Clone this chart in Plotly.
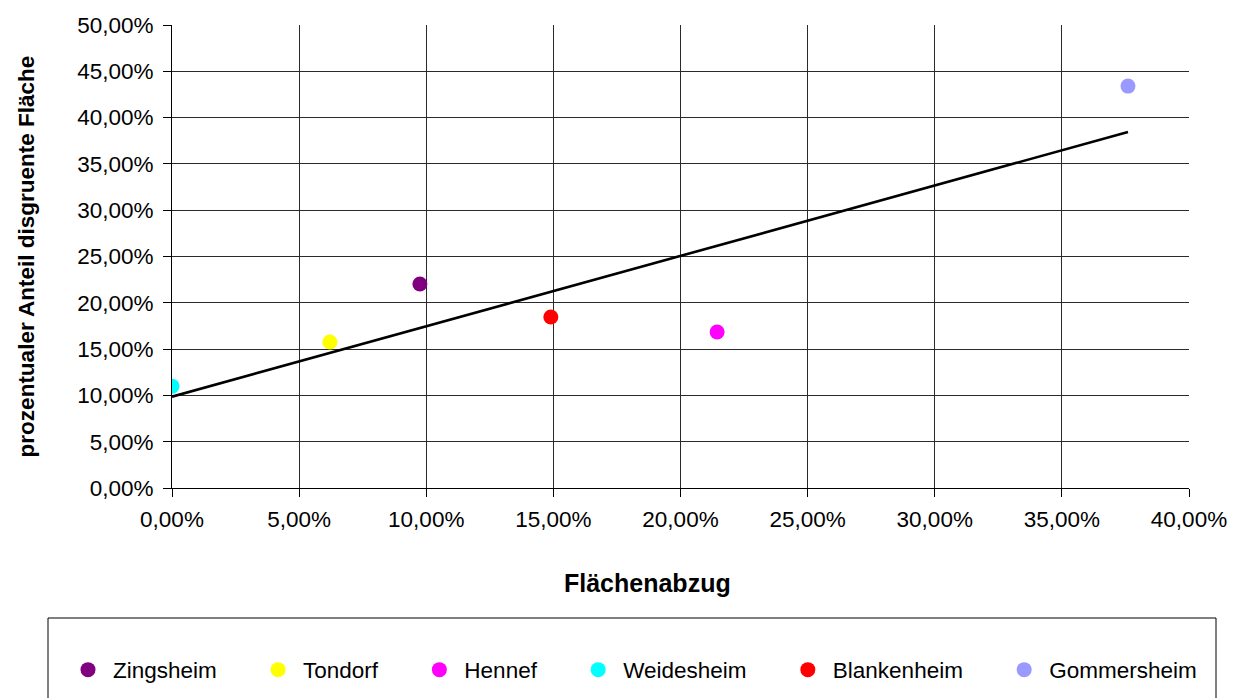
import numpy as np
import plotly.graph_objects as go

# Locations and their values (fractions, shown as percent)
orte = ["Zingsheim", "Tondorf", "Hennef", "Weidesheim", "Blankenheim", "Gommersheim"]
flaechenabzug = [0.0975, 0.0621, 0.2144, 0.0000, 0.1490, 0.3760]
anteil_disgruent = [0.2203, 0.1577, 0.1685, 0.1100, 0.1847, 0.4340]
farben = ["#800080", "#FFFF00", "#FF00FF", "#00FFFF", "#FF0000", "#9999FF"]

x_ticks = [0.0, 0.05, 0.10, 0.15, 0.20, 0.25, 0.30, 0.35, 0.40]
y_ticks = [0.0, 0.05, 0.10, 0.15, 0.20, 0.25, 0.30, 0.35, 0.40, 0.45, 0.50]

FONT = "Arial, 'Liberation Sans', sans-serif"
FS = 22.5
GRID = "#2a2a2a"
PAD = "\u00a0" * 5  # extra room after each legend label

fig = go.Figure()

for i, (name, xv, yv, col) in enumerate(zip(orte, flaechenabzug, anteil_disgruent, farben)):
    label = name if i == len(orte) - 1 else name + PAD
    fig.add_trace(go.Scatter(
        x=[xv], y=[yv], mode="markers", name=label,
        marker=dict(color=col, size=15, line=dict(width=0)),
    ))

# Linear trend line over all points
xs = np.array(flaechenabzug)
ys = np.array(anteil_disgruent)
m, b = np.polyfit(xs, ys, 1)
x_line = np.array([xs.min(), xs.max()])
fig.add_trace(go.Scatter(
    x=x_line, y=m * x_line + b, mode="lines", showlegend=False,
    line=dict(color="black", width=2.6), hoverinfo="skip",
))

# Frame around the legend
fig.add_shape(
    type="rect", xref="paper", yref="paper",
    x0=(48 - 172) / 1017, x1=(1216 - 172) / 1017,
    y0=(488 - 618) / 463, y1=(488 - 720) / 463,
    line=dict(color="black", width=1), fillcolor="white", layer="below",
)

fig.add_annotation(
    text="<b>Flächenabzug</b>", xref="paper", yref="paper",
    x=(647 - 172) / 1017, y=(488 - 583) / 463, showarrow=False,
    font=dict(family=FONT, size=25, color="black"),
    xanchor="center", yanchor="middle",
)

fig.update_layout(
    width=1245, height=698,
    margin=dict(l=172, r=56, t=25, b=210, autoexpand=False),
    paper_bgcolor="white", plot_bgcolor="white",
    separators=",.",
    font=dict(family=FONT, size=FS, color="black"),
    showlegend=True,
    legend=dict(
        orientation="h", x=(63 - 172) / 1017, xanchor="left",
        y=(488 - 670) / 463, yanchor="middle",
        font=dict(family=FONT, size=FS, color="black"),
        bgcolor="rgba(0,0,0,0)", borderwidth=0, itemwidth=40,
    ),
    xaxis=dict(
        range=[0, 0.40], tickvals=x_ticks, tickformat=".2%",
        showgrid=True, gridcolor=GRID, gridwidth=1,
        showline=True, linecolor="black", linewidth=1,
        ticks="outside", ticklen=8, tickcolor="black",
        zeroline=False, tickfont=dict(size=FS), ticklabelstandoff=3,
    ),
    yaxis=dict(
        range=[0, 0.50], tickvals=y_ticks, tickformat=".2%",
        showgrid=True, gridcolor=GRID, gridwidth=1,
        showline=True, linecolor="black", linewidth=1,
        ticks="outside", ticklen=8, tickcolor="black",
        zeroline=False, tickfont=dict(size=FS), ticklabelstandoff=5,
        title=dict(text="<b>prozentualer Anteil disgruente Fläche</b>",
                   font=dict(size=FS), standoff=36),
    ),
)

fig.write_html("out.html")
